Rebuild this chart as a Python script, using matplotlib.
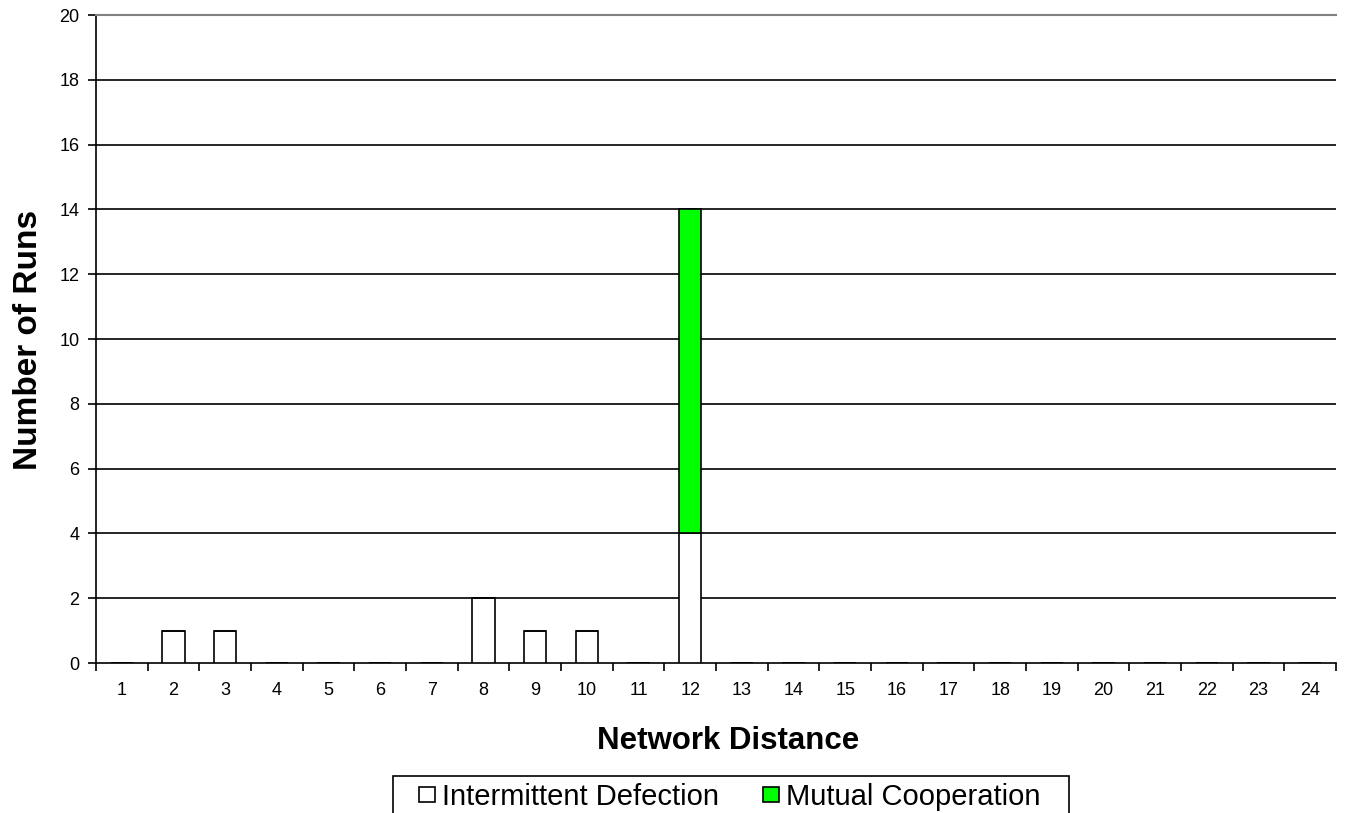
import numpy as np
import matplotlib.pyplot as plt
from matplotlib.patches import Rectangle

plt.rcParams['font.family'] = ['Liberation Sans', 'DejaVu Sans']

distance = list(range(1, 25))
intermittent = [0, 1, 1, 0, 0, 0, 0, 2, 1, 1, 0, 4, 0, 0, 0, 0, 0, 0, 0, 0, 0, 0, 0, 0]
mutual = [0, 0, 0, 0, 0, 0, 0, 0, 0, 0, 0, 10, 0, 0, 0, 0, 0, 0, 0, 0, 0, 0, 0, 0]

W, H = 1350, 813
fig = plt.figure(figsize=(13.5, 8.13), dpi=100)
ax = fig.add_axes([96 / W, 1 - 663 / H, 1240 / W, 648 / H])

x = np.array(distance)
ax.bar(x, intermittent, width=0.43, color='white', edgecolor='black', linewidth=1.2,
       label='Intermittent Defection', zorder=3)
ax.bar(x, mutual, width=0.43, bottom=intermittent, color='#00ff00', edgecolor='black',
       linewidth=1.2, label='Mutual Cooperation', zorder=3)

ax.set_xlim(0.5, 24.5)
ax.set_ylim(0, 20)
ax.set_yticks(range(0, 21, 2))
for yv in range(2, 20, 2):
    ax.axhline(yv, color='black', linewidth=1.2, zorder=1)

ax.set_xticks(x)
ax.set_xticks(np.arange(0.5, 25, 1), minor=True)
ax.tick_params(axis='x', which='major', length=0, labelsize=13, pad=14)
ax.tick_params(axis='x', which='minor', length=6, width=1.2, direction='out')
ax.tick_params(axis='y', length=6, width=1.2, labelsize=13, pad=6)

ax.spines['right'].set_visible(False)
ax.spines['top'].set_color('#808080')
ax.spines['top'].set_linewidth(1.5)
ax.spines['left'].set_linewidth(1.2)
ax.spines['bottom'].set_linewidth(1.2)

ax.set_xlabel('Network Distance', fontsize=22.5, fontweight='bold')
ax.xaxis.set_label_coords((728 - 96) / 1240, (663 - 741) / 648)
ax.xaxis.label.set_va('center')
ax.set_ylabel('Number of Runs', fontsize=24, fontweight='bold')
ax.yaxis.set_label_coords((29 - 96) / 1240, (663 - 340) / 648)
ax.yaxis.label.set_va('center')

leg = fig.legend(loc='upper left', bbox_to_anchor=(419 / W, 1 - 783 / H), ncol=2,
                 fontsize=21, frameon=False, borderpad=0, borderaxespad=0,
                 handlelength=0.55, handleheight=0.4, handletextpad=0.25,
                 columnspacing=1.5)
for h in leg.legend_handles:
    h.set_linewidth(1.2)

fig.patches.append(Rectangle((393 / W, -0.02), 676 / W, (813 - 776) / H + 0.02,
                             transform=fig.transFigure, fill=False,
                             edgecolor='black', linewidth=1.2))

fig.savefig('out.png', dpi=100)
